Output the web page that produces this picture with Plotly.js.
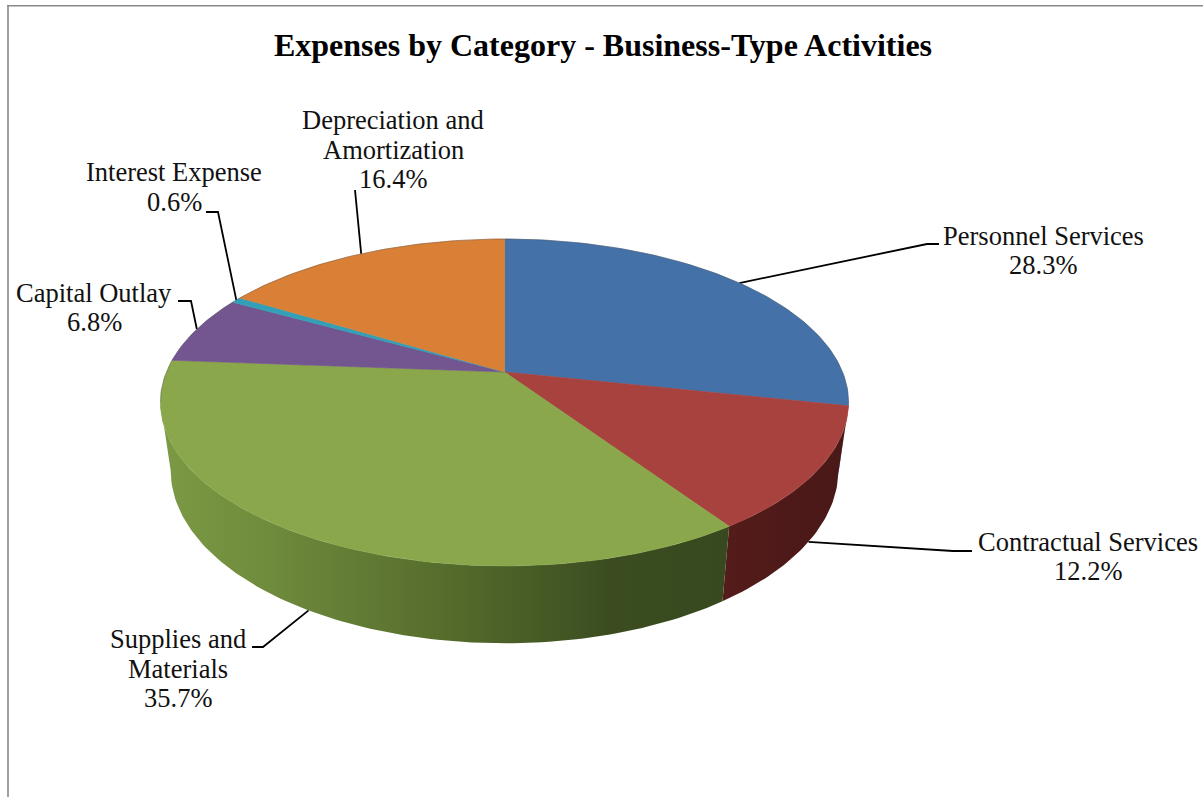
<!DOCTYPE html>
<html>
<head>
<meta charset="utf-8">
<title>Expenses by Category - Business-Type Activities</title>
<script src="https://cdn.plot.ly/plotly-3.0.1.min.js"></script>
<style>html,body{margin:0;padding:0;background:#fff}</style>
</head>
<body>
<div id="chart" style="width:1203px;height:797px"></div>
<script>
// Share of business-type expenses, percent, clockwise from twelve o'clock.
const categories = ["Personnel Services", "Contractual Services", "Supplies and Materials",
                    "Capital Outlay", "Interest Expense", "Depreciation and Amortization"];
const shares = [28.3, 12.2, 35.7, 6.8, 0.6, 16.4];

// How each category name wraps in its callout.
const labelLines = [
  ["Personnel Services"], ["Contractual Services"], ["Supplies and", "Materials"],
  ["Capital Outlay"], ["Interest Expense"], ["Depreciation and", "Amortization"]
];

const topColors = ["#4472a8", "#a8423f", "#8aa74c", "#73558f", "#34a0b8", "#da7f36"];

// Side wall shading, left to right, for the two slices that show a wall.
const wallShades = {
  1: [[0, "#541c1b"], [1, "#481817"]],
  2: [[0, "#7c9a44"], [0.2, "#6e8a3c"], [0.5, "#566c2c"], [0.8, "#3a4c20"], [1, "#38491f"]]
};

// Callout placement: text centre, first line middle, elbow and tail of the leader.
const calloutX = [1043, 1088, 178, 94, 174, 393];
const calloutY = [235.5, 541.5, 639, 292.5, 172, 120];
const leaderElbow = [[927, 244], [953, 551], [263, 647], [191, 301], [218, 212], null];
const leaderTail = [[939, 244], [972, 551], [252, 647], [178, 301], [206, 212], [355, 190]];

const LABEL_FONT = "Liberation Serif, Times New Roman, serif";
const LINE_STEP = 29.7;

// Perspective view of the pie: two discs sharing one foreshortening factor.
const TILT = 0.1865;
const topDisc = {cx: 504.5, cy: 372, ax: 338, ay: 157.8};
const baseDisc = {cx: 504.5, cy: 438, ax: 328, ay: 167};
// Angles at which the rim turns from the far side to the near side.
const NEAR_START = Math.acos(-TILT) * 180 / Math.PI;
const NEAR_END = 360 - NEAR_START;

function project(deg, disc) {
  const t = deg * Math.PI / 180, u = Math.sin(t), v = -Math.cos(t), w = 1 - TILT * v;
  return [disc.cx + disc.ax * u / w, disc.cy + disc.ay * v / w];
}

function arc(from, to, disc) {
  const n = Math.max(2, Math.ceil(Math.abs(to - from)));
  const pts = [];
  for (let i = 0; i <= n; i++) pts.push(project(from + (to - from) * i / n, disc));
  return pts;
}

function polygon(points, extra) {
  return Object.assign({
    type: "scatter", mode: "lines", fill: "toself", hoverinfo: "skip", showlegend: false,
    x: points.map(p => p[0]), y: points.map(p => p[1])
  }, extra);
}

// Slice boundaries in degrees.
const total = shares.reduce((a, b) => a + b, 0);
const bounds = [0];
shares.forEach((s, i) => bounds.push(bounds[i] + s / total * 360));

const traces = [];

// Leaders run from each slice's mid-angle on the visible rim out to its text.
categories.forEach((name, i) => {
  const mid = (bounds[i] + bounds[i + 1]) / 2;
  const onWall = mid > NEAR_START && mid < NEAR_END;
  const pts = [project(mid, onWall ? baseDisc : topDisc)];
  if (leaderElbow[i]) pts.push(leaderElbow[i]);
  pts.push(leaderTail[i]);
  traces.push({
    type: "scatter", mode: "lines", hoverinfo: "skip", showlegend: false,
    x: pts.map(p => p[0]), y: pts.map(p => p[1]),
    line: {color: "#000", width: 1.8}
  });
});

// Near side walls.
shares.forEach((s, i) => {
  const from = Math.max(bounds[i], NEAR_START), to = Math.min(bounds[i + 1], NEAR_END);
  if (to <= from) return;
  const pts = arc(from, to, topDisc).concat(arc(to, from, baseDisc));
  pts.push(pts[0]);
  traces.push(polygon(pts, {
    name: categories[i] + " wall",
    line: {width: 0},
    fillgradient: {type: "horizontal", colorscale: wallShades[i]}
  }));
});

// Top faces.
shares.forEach((s, i) => {
  const pts = [[topDisc.cx, topDisc.cy]].concat(arc(bounds[i], bounds[i + 1], topDisc));
  pts.push([topDisc.cx, topDisc.cy]);
  traces.push(polygon(pts, {
    name: categories[i],
    fillcolor: topColors[i],
    line: {color: topColors[i], width: 0.6}
  }));
});

// Faint edge along the far rim.
const rim = arc(NEAR_END, NEAR_START + 360, topDisc);
traces.push({
  type: "scatter", mode: "lines", hoverinfo: "skip", showlegend: false,
  x: rim.map(p => p[0]), y: rim.map(p => p[1]),
  line: {color: "rgba(70,70,70,0.45)", width: 0.8}
});

// Callout text, one annotation per line for tight leading.
const annotations = [];
categories.forEach((name, i) => {
  const lines = labelLines[i].concat(shares[i].toFixed(1) + "%");
  lines.forEach((text, j) => annotations.push({
    xref: "x", yref: "y", x: calloutX[i], y: calloutY[i] + j * LINE_STEP,
    text, showarrow: false, xanchor: "center", yanchor: "middle",
    font: {family: LABEL_FONT, size: 26.5, color: "#111"}
  }));
});

const layout = {
  width: 1203, height: 797,
  margin: {l: 0, r: 0, t: 0, b: 0},
  paper_bgcolor: "#fff", plot_bgcolor: "#fff",
  showlegend: false,
  title: {
    text: "<b>Expenses by Category - Business-Type Activities</b>",
    font: {family: LABEL_FONT, size: 32, color: "#000"},
    x: 603 / 1203, xanchor: "center", xref: "paper",
    y: 1 - 45 / 797, yanchor: "middle", yref: "paper"
  },
  xaxis: {range: [0, 1203], visible: false, fixedrange: true},
  yaxis: {range: [797, 0], visible: false, fixedrange: true},
  annotations,
  shapes: [
    {type: "line", xref: "x", yref: "y", x0: 8, x1: 8, y0: 5, y1: 797, line: {color: "#8a8a8a", width: 1.6}},
    {type: "line", xref: "x", yref: "y", x0: 7, x1: 1203, y0: 5.8, y1: 5.8, line: {color: "#8a8a8a", width: 1.4}}
  ]
};

Plotly.newPlot("chart", traces, layout, {displayModeBar: false, staticPlot: true});
</script>
</body>
</html>
